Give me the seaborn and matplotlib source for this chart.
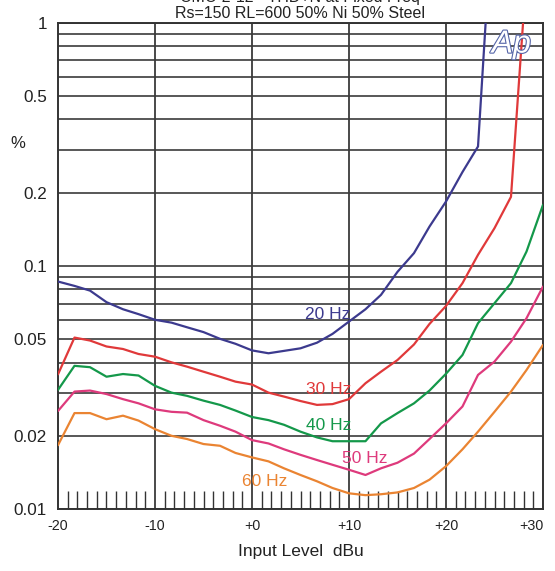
import numpy as np
import pandas as pd
import matplotlib
matplotlib.use("Agg")
import matplotlib.pyplot as plt
import matplotlib.ticker as mticker
import matplotlib.patheffects as pe
import seaborn as sns

# input level steps (dBu)
level = [-20.0, -18.3, -16.7, -15.0, -13.3, -11.7, -10.0, -8.3, -6.7, -5.0,
         -3.3, -1.7, 0.0, 1.7, 3.3, 5.0, 6.7, 8.3, 10.0, 11.7,
         13.3, 15.0, 16.7, 18.3, 20.0, 21.7, 23.3, 25.0, 26.7, 28.3, 30.0]

# THD+N in %
thd_20 = [0.0862, 0.0827, 0.0791, 0.0709, 0.0663, 0.0633, 0.0600, 0.0584, 0.0559, 0.0534,
          0.0501, 0.0478, 0.0449, 0.0437, 0.0447, 0.0458, 0.0483, 0.0525, 0.0590, 0.0663,
          0.0760, 0.0945, 0.1128, 0.1451, 0.1839, 0.2432, 0.3097, 3.9]
thd_30 = [0.0358, 0.0507, 0.0493, 0.0466, 0.0455, 0.0434, 0.0423, 0.0401, 0.0385, 0.0367,
          0.0350, 0.0334, 0.0325, 0.0301, 0.0290, 0.0278, 0.0268, 0.0270, 0.0283, 0.0329,
          0.0367, 0.0410, 0.0475, 0.0577, 0.0684, 0.0849, 0.1110, 0.1429, 0.1923, 1.6]
thd_40 = [0.0309, 0.0388, 0.0383, 0.0350, 0.0359, 0.0354, 0.0321, 0.0301, 0.0292, 0.0279,
          0.0268, 0.0254, 0.0239, 0.0232, 0.0222, 0.0208, 0.0197, 0.0190, 0.0190, 0.0190,
          0.0225, 0.0248, 0.0272, 0.0307, 0.0360, 0.0430, 0.0581, 0.0702, 0.0849, 0.1145, 0.1782]
thd_50 = [0.0253, 0.0304, 0.0307, 0.0297, 0.0283, 0.0272, 0.0257, 0.0251, 0.0249, 0.0232,
          0.0220, 0.0208, 0.0192, 0.0186, 0.0176, 0.0167, 0.0159, 0.0152, 0.0145, 0.0138,
          0.0147, 0.0155, 0.0169, 0.0194, 0.0225, 0.0264, 0.0356, 0.0404, 0.0488, 0.0609, 0.0822]
thd_60 = [0.0183, 0.0248, 0.0248, 0.0234, 0.0242, 0.0231, 0.0213, 0.0200, 0.0194, 0.0185,
          0.0182, 0.0170, 0.0163, 0.0157, 0.0147, 0.0138, 0.0130, 0.0122, 0.0116, 0.0114,
          0.0115, 0.0117, 0.0122, 0.0132, 0.0150, 0.0176, 0.0208, 0.0251, 0.0304, 0.0373, 0.0473]

freqs = ["20 Hz", "30 Hz", "40 Hz", "50 Hz", "60 Hz"]
series = [thd_20, thd_30, thd_40, thd_50, thd_60]
colors = {"20 Hz": "#3c3a8e", "30 Hz": "#e0393a", "40 Hz": "#14984a",
          "50 Hz": "#de3a7c", "60 Hz": "#ea8432"}

# curve label positions (dBu, %)
label_x = [7.8, 7.9, 7.9, 11.6, 1.3]
label_y = [0.0630, 0.0309, 0.0220, 0.0162, 0.0130]

rows = []
for f, vals in zip(freqs, series):
    for x, v in zip(level, vals):
        rows.append({"level": x, "thd": v, "freq": f})
df = pd.DataFrame(rows)

sns.set_style("white")
plt.rcParams["font.family"] = ["Liberation Sans", "DejaVu Sans"]

fig = plt.figure(figsize=(5.55, 5.71), dpi=100)
ax = fig.add_axes([58 / 555, 62 / 571, 485 / 555, 486.3 / 571])

sns.lineplot(data=df, x="level", y="thd", hue="freq", palette=colors,
             estimator=None, sort=False, legend=False, linewidth=1.6, ax=ax, zorder=3)

ax.set_yscale("log")
ax.set_xlim(-20, 30)
ax.set_ylim(0.01, 1)

# grid: every 1..9 step on log axis, every 10 dB on x
for d in [0.01, 0.1]:
    for m in range(1, 10):
        ax.axhline(d * m, color="#4a4a4a", lw=1.3, zorder=1)
ax.axhline(1.0, color="#222222", lw=1.3, zorder=1)
for xv in [-10, 0, 10, 20]:
    ax.axvline(xv, color="#3a3a3a", lw=1.3, zorder=1)

ax.yaxis.set_major_locator(mticker.FixedLocator([0.01, 0.02, 0.05, 0.1, 0.2, 0.5, 1]))
ax.yaxis.set_major_formatter(mticker.FixedFormatter(["0.01", "0.02", "0.05", "0.1", "0.2", "0.5", "1"]))
ax.yaxis.set_minor_locator(mticker.NullLocator())
ax.tick_params(axis="y", which="major", length=0, pad=8, labelsize=12.3, labelcolor="#222222")

ax.set_xticks([-20, -10, 0, 10, 20, 30])
ax.set_xticklabels(["-20", "-10", "+0", "+10", "+20", "+30"])
ax.get_xticklabels()[-1].set_horizontalalignment("right")
ax.xaxis.set_minor_locator(mticker.MultipleLocator(1))
ax.tick_params(axis="x", which="major", length=0, pad=7, labelsize=10.3, labelcolor="#222222")
ax.tick_params(axis="x", which="minor", direction="in", length=13, width=1.0,
               color="#333333", bottom=True)

for s in ax.spines.values():
    s.set_color("#333333")
    s.set_linewidth(1.4)

ax.set_xlabel("Input Level  dBu", fontsize=12.5, color="#222222", labelpad=8)
ax.set_ylabel("")
fig.text(18 / 555, 1 - 143 / 571, "%", fontsize=12, color="#222222", ha="center", va="center")

for f, lx, ly in zip(freqs, label_x, label_y):
    ax.text(lx, ly, f, color=colors[f], fontsize=12.5, ha="center", va="center", zorder=4)

fig.text(300 / 555, 1 - 2 / 571, "CMC-2-12 - THD+N at Fixed Freq", fontsize=11.5,
         ha="center", va="baseline", color="#222222")
fig.text(300 / 555, 1 - 18 / 571, "Rs=150 RL=600 50% Ni 50% Steel", fontsize=11.5,
         ha="center", va="baseline", color="#222222")

logo = ax.text(0.975, 0.955, "Ap", transform=ax.transAxes, fontsize=23, style="italic",
               ha="right", va="center", color="white", zorder=5)
logo.set_path_effects([pe.Stroke(linewidth=1.6, foreground="#5565a8"), pe.Normal()])

plt.savefig("out.png", dpi=100)
